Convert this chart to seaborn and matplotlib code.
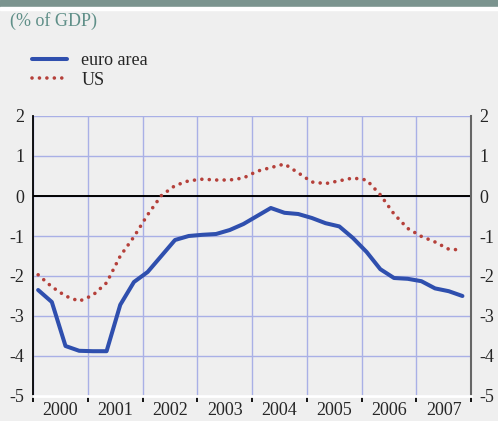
import numpy as np
import pandas as pd
import matplotlib
matplotlib.use("Agg")
import matplotlib.pyplot as plt
from matplotlib.patches import Rectangle
import seaborn as sns

# quarterly budget balance, % of GDP
quarters = pd.period_range("2000Q1", "2007Q4", freq="Q")
euro_area = [-2.35, -2.65, -3.75, -3.87, -3.88, -3.88, -2.72, -2.15,
             -1.9, -1.5, -1.1, -1.0, -0.97, -0.95, -0.85, -0.7,
             -0.5, -0.3, -0.42, -0.45, -0.55, -0.68, -0.76, -1.05,
             -1.4, -1.83, -2.05, -2.07, -2.13, -2.31, -2.38, -2.5]
us = [-1.97, -2.27, -2.5, -2.63, -2.48, -2.17, -1.5, -1.02,
      -0.47, 0.01, 0.26, 0.38, 0.42, 0.4, 0.4, 0.45,
      0.62, 0.71, 0.8, 0.58, 0.35, 0.31, 0.38, 0.45,
      0.4, 0.03, -0.45, -0.81, -1.01, -1.15, -1.33, -1.35]
years = list(range(2000, 2008))
y_ticks = [-5, -4, -3, -2, -1, 0, 1, 2]

BG = "#efefef"
BLUE = "#2f4fae"
RED = "#b5403a"
GRID = "#a9b0e6"
SERIF = ["Liberation Serif", "DejaVu Serif"]
FS = 13

sns.set_style("white")
plt.rcParams["font.family"] = SERIF

df = pd.DataFrame({
    "x": quarters.year + (quarters.quarter - 1 + 0.375) / 4,
    "euro area": euro_area,
    "US": us,
})

fig = plt.figure(figsize=(4.98, 4.21), dpi=100, facecolor=BG)
ax = fig.add_axes([33 / 498, 1 - 396 / 421, 438 / 498, 280 / 421])
ax.set_facecolor(BG)

# header band
fig.patches.append(Rectangle((0, 1 - 7 / 421), 1, 7 / 421, transform=fig.transFigure,
                             color="#7b948f", zorder=0))
fig.patches.append(Rectangle((0, 1 - 9.5 / 421), 1, 2.5 / 421, transform=fig.transFigure,
                             color="white", zorder=0))
fig.text(10 / 498, 1 - 21 / 421, "(% of GDP)", color="#5f8f88", fontsize=FS,
         va="center", ha="left")

ax.set_xlim(years[0], years[-1] + 1)
ax.set_ylim(min(y_ticks), max(y_ticks))
ax.grid(True, color=GRID, linewidth=1)
ax.axhline(0, color="black", linewidth=1.4, zorder=2)

sns.lineplot(data=df, x="x", y="euro area", ax=ax, color=BLUE, linewidth=2.9,
             label="euro area", zorder=3)
sns.lineplot(data=df, x="x", y="US", ax=ax, color=RED, linewidth=2.6,
             linestyle=(0, (0.01, 2.05)), dash_capstyle="round", label="US", zorder=3)

ax.set_xlabel("")
ax.set_ylabel("")

# y labels on both sides
ax.set_yticks(y_ticks)
ax.set_yticklabels([str(v) for v in y_ticks])
ax.tick_params(axis="y", length=0, labelsize=FS, labelright=True, pad=6)

# year boundaries as ticks, year names centred between them
ax.set_xticks(years + [years[-1] + 1])
ax.set_xticklabels([])
ax.set_xticks([y + 0.5 for y in years], minor=True)
ax.set_xticklabels([str(y) for y in years], minor=True)
ax.tick_params(axis="x", which="major", direction="out", length=4, width=1.3,
               color="black", bottom=True)
ax.tick_params(axis="x", which="minor", length=0, labelsize=FS, pad=4)

ax.spines["top"].set_visible(False)
ax.spines["left"].set_color("black")
ax.spines["left"].set_linewidth(1.3)
ax.spines["right"].set_color("#666666")
ax.spines["right"].set_linewidth(1.5)
ax.spines["bottom"].set_color("white")
ax.spines["bottom"].set_linewidth(2)

handles, labels = ax.get_legend_handles_labels()
ax.get_legend().remove()
fig.legend(handles, labels, loc="upper left", bbox_to_anchor=(32 / 498, 1 - 52 / 421),
           frameon=False, fontsize=FS, handlelength=1.95, handletextpad=0.78,
           labelspacing=0.15, borderaxespad=0, borderpad=0)

fig.savefig("out.png", dpi=100, facecolor=BG)
